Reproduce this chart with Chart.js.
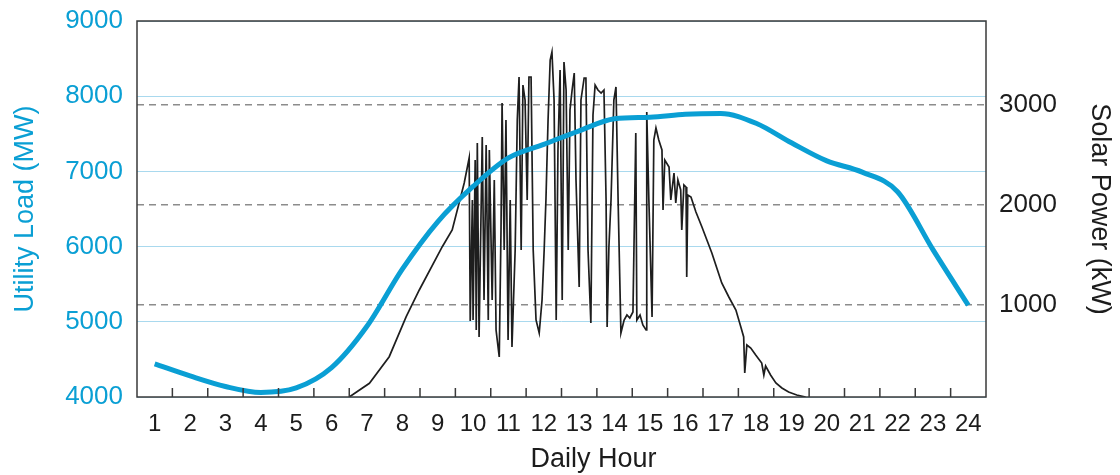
<!DOCTYPE html>
<html>
<head>
<meta charset="utf-8">
<script src="https://cdn.jsdelivr.net/npm/chart.js@4"></script>
<style>
  body { margin: 0; background: #fff; }
  #wrap { width: 1120px; height: 475px; }
</style>
</head>
<body>
<div id="wrap"><canvas id="loadChart"></canvas></div>
<script>
const hours = [1, 2, 3, 4, 5, 6, 7, 8, 9, 10, 11, 12, 13, 14, 15, 16, 17, 18, 19, 20, 21, 22, 23, 24];
const utilityLoad = [4440, 4280, 4140, 4060, 4120, 4390, 4940, 5700, 6330, 6800, 7180, 7360, 7540, 7700, 7720, 7760, 7770, 7640, 7380, 7140, 6990, 6730, 5960, 5220];

const solarHours = [
  6.5, 7.07, 7.63, 8.11, 8.48, 9.13, 9.41, 9.75,
  9.89, 9.92, 9.98, 10.0, 10.06, 10.09, 10.12, 10.17, 10.26, 10.31, 10.37, 10.43,
  10.46, 10.54, 10.6, 10.65, 10.74, 10.79, 10.82, 10.88, 10.93, 10.99,
  11.05, 11.1, 11.19, 11.25, 11.3, 11.36, 11.41, 11.47, 11.53, 11.58, 11.64, 11.7, 11.78, 11.87, 11.95,
  12.01, 12.06, 12.12, 12.18, 12.23, 12.29, 12.35, 12.4, 12.46, 12.52, 12.57, 12.63, 12.69, 12.74, 12.8, 12.86, 12.91,
  13.0, 13.05, 13.14, 13.19, 13.25, 13.33, 13.39, 13.45, 13.53, 13.62, 13.7, 13.76, 13.79, 13.84, 13.9, 13.98,
  14.04, 14.1, 14.18, 14.27, 14.35, 14.43, 14.52, 14.6, 14.63, 14.72, 14.8, 14.89, 14.91, 14.97,
  15.06, 15.11, 15.17, 15.25, 15.34, 15.37, 15.42, 15.54, 15.59, 15.68, 15.73, 15.79, 15.87, 15.9, 15.96,
  16.02, 16.04, 16.07, 16.16, 16.3, 16.47, 16.61, 16.75, 16.89, 17.03, 17.23, 17.43, 17.57, 17.65, 17.68, 17.74, 17.85, 17.99,
  18.16, 18.22, 18.27, 18.41, 18.56, 18.73, 18.92, 19.15, 19.4
];
const solarPower = [
  80, 217, 483, 883, 1150, 1583, 1750, 2220,
  2470, 840, 2050, 850, 2450, 750, 2620, 680, 2680, 1050, 2600, 850,
  2550, 1050, 2250, 750, 480, 1750, 3020, 1550, 2850, 650,
  2050, 580, 1550, 2850, 3280, 1550, 3200, 3050, 2050, 3280, 3280, 1550, 850, 720, 1050,
  1550, 2050, 2850, 3450, 3530, 3050, 850, 2550, 3350, 1050, 3430, 3150, 1550, 2950, 3150, 3320, 2250,
  1180, 3050, 3270, 3270, 1550, 820, 2900, 3200, 3150, 3120, 3150, 2050, 780, 1580, 2050, 3050,
  3180, 2050, 720, 850, 900, 870, 930, 2720, 850, 900, 800, 750, 2930, 2050,
  880, 2650, 2770, 2650, 2550, 1950, 2450, 2380, 2050, 2320, 2020, 2250, 2150, 1750, 2200,
  2180, 1280, 2100, 2080, 1930, 1780, 1650, 1520, 1370, 1220, 1080, 950, 780, 680, 320, 600, 570, 500,
  420, 300, 390, 300, 220, 170, 130, 100, 80
];
const solarTicks = [1000, 2000, 3000];

const FONT = "'Liberation Sans', Arial, sans-serif";
const BLUE = "#0a9fd4";
const plain = (v) => String(v);

const frame = {
  id: "frame",
  afterDraw(chart) {
    const { ctx, chartArea: a, scales } = chart;
    ctx.save();
    ctx.strokeStyle = "#3a3a3a";
    ctx.lineWidth = 1.5;
    ctx.beginPath();
    for (let i = 0; i < hours.length - 1; i++) {
      const px = scales.x.getPixelForValue(hours[i] + 0.5);
      ctx.moveTo(px, a.bottom);
      ctx.lineTo(px, a.bottom - 9);
    }
    ctx.stroke();
    ctx.strokeRect(a.left, a.top, a.right - a.left, a.bottom - a.top);
    ctx.fillStyle = "#1c1c1c";
    ctx.font = "27px " + FONT;
    ctx.textAlign = "center";
    ctx.textBaseline = "alphabetic";
    ctx.fillText("Daily Hour", (a.left + a.right) / 2 + 32, 467);
    ctx.restore();
  }
};

new Chart(document.getElementById("loadChart"), {
  type: "line",
  data: {
    datasets: [
      {
        label: "Utility Load",
        data: hours.map((h, i) => ({ x: h, y: utilityLoad[i] })),
        yAxisID: "y",
        borderColor: BLUE,
        borderWidth: 5,
        pointRadius: 0,
        cubicInterpolationMode: "monotone"
      },
      {
        label: "Solar Power",
        data: solarHours.map((h, i) => ({ x: h, y: solarPower[i] })),
        yAxisID: "y2",
        borderColor: "#1e1e1e",
        borderWidth: 1.7,
        pointRadius: 0,
        tension: 0
      }
    ]
  },
  options: {
    responsive: true,
    maintainAspectRatio: false,
    animation: false,
    layout: { padding: { top: 21, left: 0, right: 0, bottom: 0 } },
    plugins: { legend: { display: false }, tooltip: { enabled: false } },
    scales: {
      x: {
        type: "linear",
        position: "bottom",
        min: 0.5,
        max: 24.5,
        afterBuildTicks: (s) => { s.ticks = hours.map(v => ({ value: v })); },
        afterFit: (s) => { s.height = 78; s.paddingLeft = 0; s.paddingRight = 0; },
        grid: { display: false, drawTicks: false },
        border: { display: false },
        ticks: { color: "#1c1c1c", font: { family: FONT, size: 24 }, padding: 13, maxRotation: 0, autoSkip: false, callback: plain }
      },
      y: {
        position: "left",
        min: 4000,
        max: 9000,
        ticks: { stepSize: 1000, color: BLUE, font: { family: FONT, size: 26 }, padding: 14, callback: plain },
        afterFit: (s) => { s.width = 137; s.paddingTop = 0; s.paddingBottom = 0; },
        grid: { color: "#a9d9ee", lineWidth: 1, drawTicks: false },
        border: { display: false },
        title: { display: true, text: "Utility Load (MW)", color: BLUE, font: { family: FONT, size: 27 }, padding: { top: 9, bottom: 0 } }
      },
      y2: {
        position: "right",
        min: 80,
        max: 3840,
        afterBuildTicks: (s) => { s.ticks = solarTicks.map(v => ({ value: v })); },
        afterFit: (s) => { s.width = 134; s.paddingTop = 0; s.paddingBottom = 0; },
        ticks: { color: "#1c1c1c", font: { family: FONT, size: 26 }, padding: 13, callback: plain },
        grid: { color: "#8c8c8c", lineWidth: 1.5, drawTicks: false },
        border: { display: false, dash: [7, 5] },
        title: { display: true, text: "Solar Power (kW)", color: "#1c1c1c", font: { family: FONT, size: 27 }, padding: { top: 4, bottom: 0 } }
      }
    }
  },
  plugins: [frame]
});
</script>
</body>
</html>
